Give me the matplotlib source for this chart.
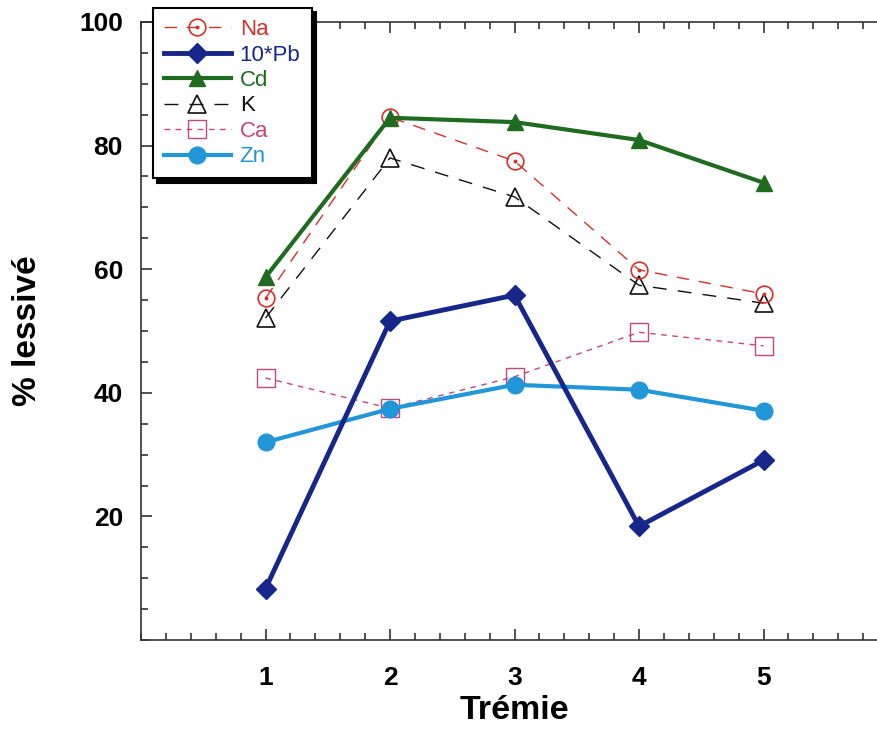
import matplotlib
matplotlib.use("Agg")
import matplotlib.pyplot as plt
from matplotlib.ticker import MultipleLocator
from matplotlib.legend_handler import HandlerTuple

plt.rcParams['font.family'] = ['Liberation Sans', 'DejaVu Sans']

tremie = [1, 2, 3, 4, 5]
na = [55.3, 84.6, 77.5, 59.9, 56.0]
pb10 = [8.3, 51.6, 55.8, 18.4, 29.1]
cd = [58.7, 84.5, 83.8, 80.9, 74.0]
k = [52.1, 78.0, 71.7, 57.4, 54.5]
ca = [42.4, 37.5, 42.6, 49.8, 47.6]
zn = [32.0, 37.4, 41.3, 40.5, 37.1]

c_na = '#d8302a'
c_pb = '#16268a'
c_cd = '#1f6b1f'
c_k = '#111111'
c_ca = '#c8457a'
c_zn = '#2196d8'

fig = plt.figure(figsize=(8.78, 7.45), dpi=100)
ax = fig.add_axes([0.1606, 0.1409, 0.8508, 0.8296])

h_ca, = ax.plot(tremie, ca, color=c_ca, lw=1, dashes=(4, 4), marker='s', ms=12.5,
                mfc='none', mec=c_ca, mew=1)
h_k, = ax.plot(tremie, k, color=c_k, lw=1, dashes=(10, 8), marker='^', ms=13,
               mfc='none', mec=c_k, mew=1.2)
h_na, = ax.plot(tremie, na, color=c_na, lw=1, dashes=(9, 7), marker='o', ms=12,
                mfc='none', mec=c_na, mew=1.2)
h_nad, = ax.plot(tremie, na, ls='none', marker='o', ms=1.8, color=c_na)
h_zn, = ax.plot(tremie, zn, color=c_zn, lw=3, marker='o', ms=12, mfc=c_zn, mec=c_zn)
h_pb, = ax.plot(tremie, pb10, color=c_pb, lw=3.5, marker='D', ms=10, mfc=c_pb, mec=c_pb)
h_cd, = ax.plot(tremie, cd, color=c_cd, lw=3, marker='^', ms=12, mfc=c_cd, mec=c_cd)

ax.set_xlim(0, 6)
ax.set_ylim(0, 100)
ax.xaxis.set_minor_locator(MultipleLocator(0.2))
ax.yaxis.set_minor_locator(MultipleLocator(5))
ax.set_xticks(tremie)
ax.set_yticks([20, 40, 60, 80, 100])
ax.tick_params(which='both', direction='in', top=True, right=True, width=1.2,
               color='#333333', labelsize=19)
ax.tick_params(which='major', length=8)
ax.tick_params(which='minor', length=5)
ax.tick_params(axis='x', which='major', pad=19)
ax.tick_params(axis='y', which='major', pad=13)
for lab in ax.get_xticklabels() + ax.get_yticklabels():
    lab.set_fontweight('bold')
for sp in ax.spines.values():
    sp.set_color('#333333')
    sp.set_linewidth(1.2)

ax.set_xlabel('Trémie', fontsize=24.5, fontweight='bold', labelpad=3)
ax.set_ylabel('% lessivé', fontsize=24, fontweight='bold', labelpad=26)

handles = [(h_na, h_nad), h_pb, h_cd, h_k, h_ca, h_zn]
labels = ['Na', '10*Pb', 'Cd', 'K', 'Ca', 'Zn']
leg = fig.legend(handles, labels, loc='upper left',
                 bbox_to_anchor=(153 / 878, 1 - 8 / 745), borderaxespad=0,
                 handler_map={tuple: HandlerTuple(ndivide=1)},
                 fontsize=16, handlelength=3.0, labelspacing=0.2,
                 handletextpad=0.4, borderpad=0.5, fancybox=False,
                 framealpha=1, edgecolor='black',
                 shadow={'color': 'black', 'alpha': 1, 'ox': 3, 'oy': -3})
leg.get_frame().set_linewidth(1.5)
for txt, col in zip(leg.get_texts(), [c_na, c_pb, c_cd, c_k, c_ca, c_zn]):
    txt.set_color(col)

fig.savefig('out.png', dpi=100)
